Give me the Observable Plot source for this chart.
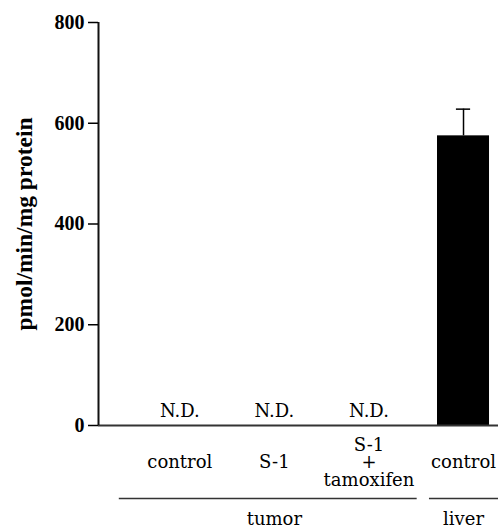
<!DOCTYPE html>
<html>
<head>
<meta charset="utf-8">
<script src="https://cdn.jsdelivr.net/npm/d3@7"></script>
<script src="https://cdn.jsdelivr.net/npm/@observablehq/plot@0.6"></script>
<style>
  html, body { margin: 0; padding: 0; background: white; }
  svg { display: block; }
</style>
</head>
<body>
<div id="chart"></div>
<script>
// ---- data ----
const categories = ["control", "S-1", "S-1\n+\ntamoxifen", "control"];
const groups = ["tumor", "tumor", "tumor", "liver"];
const values = [null, null, null, 575];   // null = not detected
const errors = [null, null, null, 53];
const yTicks = [0, 200, 400, 600, 800];
const yLabel = "pmol/min/mg protein";
const ndLabel = "N.D.";

// ---- table ----
const rows = categories.map((c, i) => ({
  i, category: c, group: groups[i], value: values[i], err: errors[i]
}));
const groupNames = [...new Set(groups)];
const groupRows = groupNames.map(g => {
  const idx = rows.filter(r => r.group === g).map(r => r.i);
  const i0 = d3.min(idx), i1 = d3.max(idx);
  return { group: g, i0, i1, mid: (i0 + i1) / 2 };
});

const xDomain = [-0.86, 3.37];
const barHalf = 0.275;
const capHalf = 0.075;
const boldFont = "'Liberation Serif', 'Times New Roman', serif";
const textFont = "'DejaVu Serif', serif";

function draw() {
  return Plot.plot({
    width: 498,
    height: 529,
    marginLeft: 98,
    marginRight: 0,
    marginTop: 22,
    marginBottom: 104,
    style: { fontFamily: textFont, fontSize: "18px", background: "white", color: "black", overflow: "visible" },
    x: { type: "linear", domain: xDomain, axis: null },
    y: { domain: [0, 800] },
    marks: [
      Plot.rectY(rows.filter(d => d.value != null), {
        x1: d => d.i - barHalf, x2: d => d.i + barHalf, y1: 0, y2: "value", fill: "black"
      }),
      Plot.ruleX(rows.filter(d => d.value != null), {
        x: "i", y1: "value", y2: d => d.value + d.err, stroke: "black", strokeWidth: 1.5
      }),
      Plot.ruleY(rows.filter(d => d.value != null), {
        y: d => d.value + d.err, x1: d => d.i - capHalf, x2: d => d.i + capHalf, stroke: "black", strokeWidth: 1.5
      }),
      Plot.ruleY([0], { stroke: "#333", strokeWidth: 2 }),
      Plot.ruleX([xDomain[0]], { y1: 0, y2: 800, stroke: "#111", strokeWidth: 2 }),
      Plot.axisY({
        ticks: yTicks, tickSize: 10, tickPadding: 4, tickFormat: d => d,
        fontFamily: boldFont, fontWeight: "bold", fontSize: 20, strokeWidth: 1.5, label: null
      }),
      Plot.text([yLabel], {
        frameAnchor: "left", textAnchor: "middle", rotate: -90, dx: -74,
        fontFamily: boldFont, fontWeight: "bold", fontSize: 23.5
      }),
      Plot.text(rows.filter(d => d.value == null), {
        x: "i", y: 0, text: () => ndLabel, dy: -14, lineAnchor: "middle",
        fontFamily: textFont, fontSize: 18
      }),
      Plot.text(rows, {
        x: "i", y: 0, text: "category", dy: 37, lineAnchor: "middle", lineHeight: 0.97,
        fontFamily: textFont, fontSize: 18
      }),
      Plot.ruleY(groupRows, {
        y: 0, dy: 73,
        x1: d => d.i0 === 0 ? d.i0 - 0.64 : d.i0 - 0.36,
        x2: d => d.i1 + 0.51,
        stroke: "#333", strokeWidth: 1.5
      }),
      Plot.text(groupRows, {
        x: "mid", y: 0, text: "group", dy: 94, lineAnchor: "middle",
        fontFamily: textFont, fontSize: 18
      })
    ]
  });
}
const host = document.getElementById("chart");
host.appendChild(draw());
</script>
</body>
</html>
